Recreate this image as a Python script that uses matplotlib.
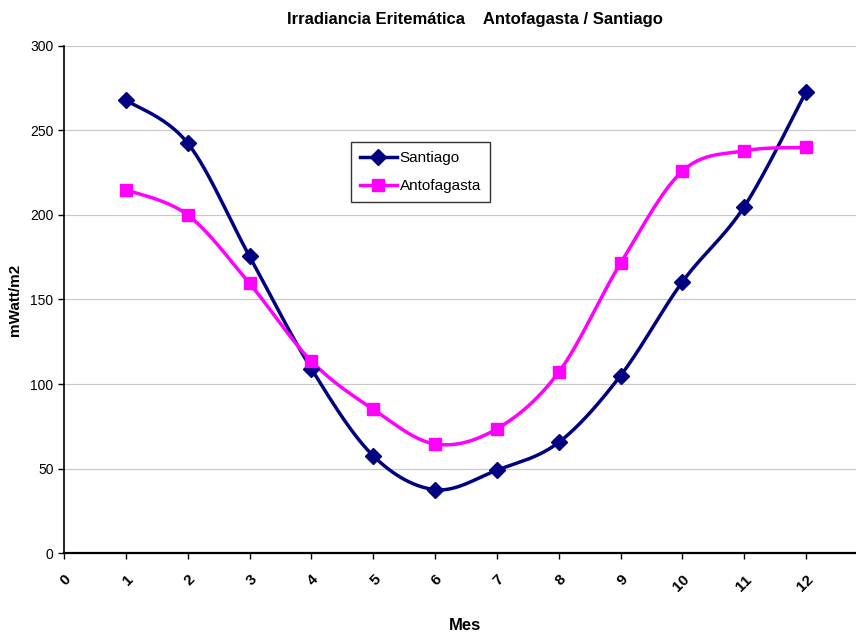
import numpy as np
import matplotlib
matplotlib.use("Agg")
import matplotlib.pyplot as plt

meses = [1, 2, 3, 4, 5, 6, 7, 8, 9, 10, 11, 12]
santiago = [268, 242.5, 175.5, 109, 57.5, 37.5, 49, 65.5, 105, 160.5, 205, 273]
antofagasta = [215, 200, 159.5, 113.5, 85, 64.5, 73.5, 107, 171.5, 226, 238, 240]

plt.rcParams['font.family'] = ['Liberation Sans', 'DejaVu Sans']


def smooth(x, y, n=30):
    # curva tipo Excel (Catmull-Rom) entre los puntos
    x = np.asarray(x, float)
    y = np.asarray(y, float)
    px = np.concatenate([[x[0]], x, [x[-1]]])
    py = np.concatenate([[y[0]], y, [y[-1]]])
    xs, ys = [], []
    for i in range(1, len(px) - 2):
        t = np.linspace(0, 1, n)
        b0 = (1 - t) ** 3
        b1 = 3 * t * (1 - t) ** 2
        b2 = 3 * t ** 2 * (1 - t)
        b3 = t ** 3
        cx1 = px[i] + (px[i + 1] - px[i - 1]) / 6
        cy1 = py[i] + (py[i + 1] - py[i - 1]) / 6
        cx2 = px[i + 1] - (px[i + 2] - px[i]) / 6
        cy2 = py[i + 1] - (py[i + 2] - py[i]) / 6
        xs.append(b0 * px[i] + b1 * cx1 + b2 * cx2 + b3 * px[i + 1])
        ys.append(b0 * py[i] + b1 * cy1 + b2 * cy2 + b3 * py[i + 1])
    return np.concatenate(xs), np.concatenate(ys)


fig = plt.figure(figsize=(8.56, 6.35), dpi=100)
ax = fig.add_axes([0.0748, 0.1291, 1.014 - 0.0748, 0.9276 - 0.1291])

navy = '#000080'
magenta = '#FF00FF'

sx, sy = smooth(meses, santiago)
ax.plot(sx, sy, color=navy, lw=2.5, zorder=3)
ax.plot(meses, santiago, ls='none', marker='D', ms=8.5, color=navy, zorder=4)
ax.plot([], [], color=navy, lw=2.5, marker='D', ms=8, label='Santiago')

ax_, ay_ = smooth(meses, antofagasta)
ax.plot(ax_, ay_, color=magenta, lw=2.5, zorder=3)
ax.plot(meses, antofagasta, ls='none', marker='s', ms=9, color=magenta, zorder=4)
ax.plot([], [], color=magenta, lw=2.5, marker='s', ms=8.5, label='Antofagasta')

ax.set_xlim(0, 13)
ax.set_ylim(0, 300)
ax.set_xticks(range(0, 14))
ax.set_yticks(range(0, 301, 50))
ax.set_xticklabels([str(i) for i in range(0, 14)], rotation=45, ha='right',
                   rotation_mode='anchor', fontweight='bold', fontsize=11)
for lbl in ax.get_yticklabels():
    lbl.set_fontsize(10)
ax.yaxis.grid(True, color='#c8c8c8', lw=0.8)
ax.set_axisbelow(True)
for s in ['top', 'right']:
    ax.spines[s].set_visible(False)
ax.spines['left'].set_linewidth(1.2)
ax.spines['bottom'].set_linewidth(1.6)
ax.tick_params(axis='both', length=4, width=1)
ax.tick_params(axis='x', pad=10)

ax.set_ylabel('mWatt/m2', fontsize=11, fontweight='bold', labelpad=6)
fig.text(0.543, 0.008, 'Mes', fontsize=12, fontweight='bold', ha='center')
fig.text(0.555, 0.962, 'Irradiancia Eritemática    Antofagasta / Santiago',
         fontsize=12, fontweight='bold', ha='center')

leg = ax.legend(loc='upper left', bbox_to_anchor=(0.41, 0.776),
                bbox_transform=fig.transFigure, fontsize=11, frameon=True,
                fancybox=False, edgecolor='black', handlelength=2.4,
                borderpad=0.6, labelspacing=0.9, handletextpad=0.2,
                borderaxespad=0)
leg.get_frame().set_linewidth(1.0)

fig.savefig('out.png', dpi=100)
